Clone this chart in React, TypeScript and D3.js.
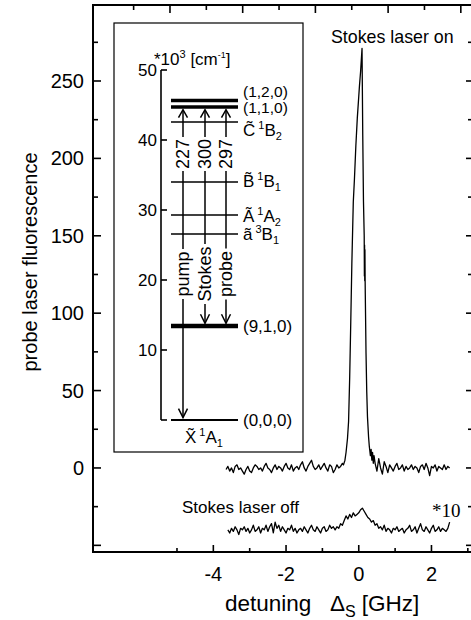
import React from "react";
import * as d3 from "d3";

// ---------- data ----------
// Detuning sampling step (GHz) for the recorded traces
const STEP = 0.05;

// "Stokes laser on" trace: baseline left of the resonance
const onLeftStart = -3.65;
const onLeftValues = [
  -1, 1, -2, 0, -3, 1, 2, -1, 0, -2,
  -4, -1, 1, -2, -3, 0, 2, 1, -1, 0,
  -2, 1, 3, 0, -1, -3, 0, 2, -1, 1,
  0, -2, 1, 3, 0, -1, 2, -2, 0, 1,
  -1, 2, 4, 0, -2, 1, 3, 5, 1, -1,
  0, 2, -1, 1, 3, 0, -2, 2, 1, -3,
  -1, 2, 0, 1, 3,
];
// resonance region, [detuning GHz, fluorescence]
const onPeakPoints: [number, number][] = [
  [-0.42, 2], [-0.38, 5], [-0.35, 10], [-0.31, 19], [-0.28, 30], [-0.25, 58],
  [-0.22, 94], [-0.19, 132], [-0.15, 172], [-0.12, 186], [-0.08, 208],
  [-0.04, 226], [0.0, 240], [0.02, 247], [0.05, 256], [0.09, 271], [0.11, 215],
  [0.13, 172], [0.15, 150], [0.155, 124], [0.16, 144], [0.165, 121], [0.17, 141],
  [0.175, 122], [0.18, 112], [0.2, 74], [0.22, 49], [0.24, 33], [0.27, 20],
  [0.29, 14], [0.32, 8], [0.34, 12], [0.36, 5], [0.38, 10], [0.4, 3], [0.42, 8],
];
// baseline right of the resonance
const onRightStart = 0.45;
const onRightValues = [
  3, -2, 6, 0, -4, 4, 1, -3, 2, 0,
  -2, 1, 3, -1, 0, 2, -2, 1, -1, 0,
  2, -1, 1, 0, -3, 1, 2, -1, 3, 0,
  -5, 1, 0, 2, -2, 1, 0, -1, 2, -1,
  1, 0,
];

// "Stokes laser off" trace (magnified x10), drawn shifted below the zero line
const offStart = -3.6;
const offValues = [
  0, -2, 1, -1, 2, 0, -3, 1, 0, 2,
  -1, 1, -2, 0, 3, -1, 0, 2, -2, 1,
  0, 3, -1, 2, 4, -2, 5, 1, 3, -1,
  2, 0, -2, 1, 0, 3, -1, 1, -2, 0,
  1, -1, 2, 0, -2, 1, 3, 0, -1, 2,
  0, -2, 1, 2, -1, 0, 3, 1, 2, 0,
  2, 1, 4, 3, 6, 9, 7, 10, 8, 11,
  9, 10, 11, 13, 14, 12, 10, 8, 7, 5,
  6, 3, 4, 1, 2, 0, 3, -1, 1, 0,
  -2, 1, 0, 2, -1, 0, 1, -2, 0, 1,
  3, -1, 0, 2, -2, 1, 4, 0, -1, 2,
  0, -2, 1, 3, -1, 0, 2, -1, 1, 0,
  -1, 1, 5,
];
const OFF_SHIFT = -40;

// Axis ticks
const yLabelTicks = [0, 50, 100, 150, 200, 250];
const yMajorTicks = [-50, 0, 50, 100, 150, 200, 250];
const yMinorTicks = [-25, 25, 75, 125, 175, 225, 275];
const xLabelTicks = [-4, -2, 0, 2];
const xBottomTicks = [-5, -4, -3, -2, -1, 0, 1, 2, 3];
const xTopTicks = [-6, -5, -4, -3, -2, -1, 0, 1, 2, 3];

// Energy-level diagram (10^3 cm^-1)
const energyTicks = [0, 10, 20, 30, 40, 50];
const energyTickLabels = [10, 20, 30, 40, 50];
const vibLevelNames = ["(1,2,0)", "(1,1,0)", "(9,1,0)", "(0,0,0)"];
const vibLevelEnergies = [45.64, 44.71, 13.43, 0];
const electronicStates = [
  { letter: "C\u0303", mult: "1", sym: "B", sub: "2" },
  { letter: "B\u0303", mult: "1", sym: "B", sub: "1" },
  { letter: "\u00C3", mult: "1", sym: "A", sub: "2" },
  { letter: "\u00E3", mult: "3", sym: "B", sub: "1" },
];
const electronicEnergies = [42.57, 34.0, 29.29, 26.57];
const beamWavelengths = ["227", "300", "297"];
const beamNames = ["pump", "Stokes", "probe"];

// ---------- drawing ----------
const W = 471;
const H = 620;
const FONT = "'Liberation Sans', Arial, Helvetica, sans-serif";
const SERIF = "'Liberation Serif', 'Times New Roman', serif";

const frame = { left: 93, right: 474, top: 5, bottom: 552 };

export default function App() {
  const x = d3.scaleLinear().domain([-7.31, 3.17]).range([frame.left, frame.right]);
  const y = d3.scaleLinear().domain([-54.3, 299.1]).range([frame.bottom, frame.top]);
  const eY = d3.scaleLinear().domain([0, 50]).range([420, 70]);

  const onPts: [number, number][] = [
    ...onLeftValues.map((v, i) => [onLeftStart + i * STEP, v] as [number, number]),
    ...onPeakPoints,
    ...onRightValues.map((v, i) => [onRightStart + i * STEP, v] as [number, number]),
  ];
  const offPts: [number, number][] = offValues.map(
    (v, i) => [offStart + i * STEP, v + OFF_SHIFT] as [number, number]
  );
  const line = d3
    .line<[number, number]>()
    .x((d) => x(d[0]))
    .y((d) => y(d[1]));

  const topSkew = -7;

  // inset geometry
  const box = { x: 114, y: 23, w: 189, h: 429 };
  const axisX = 161;
  const lvlX1 = 171;
  const lvlX2 = 238;
  const lblX = 243;
  const beamX = [183, 205, 226];
  const vibWidths = [3.4, 3.4, 4.5, 1.8];
  const upperLabelY = 154;
  const lowerLabelY = 274;
  const fs = 18;
  const em: Record<string, number> = { "227": 1.668, "300": 1.668, "297": 1.668, pump: 2.5, Stokes: 3.057, probe: 2.557 };

  const topTip = eY(vibLevelEnergies[1]) + vibWidths[1] / 2 + 1;
  const bottomTips = [
    eY(vibLevelEnergies[3]) - vibWidths[3] / 2 - 1.5,
    eY(vibLevelEnergies[2]) - vibWidths[2] / 2 - 0.5,
    eY(vibLevelEnergies[2]) - vibWidths[2] / 2 - 0.5,
  ];

  const stroke = "#000";

  return (
    <svg
      width={W}
      height={H}
      viewBox={`0 0 ${W} ${H}`}
      style={{ position: "absolute", left: 0, top: 0, background: "#fff" }}
      fontFamily={FONT}
    >
      <rect x={0} y={0} width={W} height={H} fill="#fff" />

      {/* traces */}
      <path d={line(onPts) || ""} fill="none" stroke={stroke} strokeWidth={1.3} strokeLinejoin="round" />
      <path d={line(offPts) || ""} fill="none" stroke={stroke} strokeWidth={1.3} strokeLinejoin="round" />

      {/* frame */}
      <g stroke={stroke} strokeWidth={2} fill="none">
        <line x1={frame.left} y1={frame.top} x2={frame.right} y2={frame.top} />
        <line x1={frame.left} y1={frame.bottom} x2={frame.right} y2={frame.bottom} />
        <line x1={frame.left} y1={frame.top - 1} x2={frame.left} y2={frame.bottom + 1} />
        <line x1={frame.right} y1={frame.top} x2={frame.right} y2={frame.bottom} />
      </g>

      {/* y ticks, left and right */}
      <g stroke={stroke} strokeWidth={1.6}>
        {yMajorTicks.map((t) => (
          <g key={"ym" + t}>
            <line x1={frame.left} x2={frame.left + 8} y1={y(t)} y2={y(t)} />
            <line x1={frame.right - 8} x2={frame.right} y1={y(t)} y2={y(t)} />
          </g>
        ))}
        {yMinorTicks.map((t) => (
          <g key={"yn" + t}>
            <line x1={frame.left} x2={frame.left + 5} y1={y(t)} y2={y(t)} />
            <line x1={frame.right - 6} x2={frame.right} y1={y(t)} y2={y(t)} />
          </g>
        ))}
      </g>
      {yLabelTicks.map((t) => (
        <text key={"yl" + t} x={84} y={y(t) + 7} fontSize={20} textAnchor="end">
          {t}
        </text>
      ))}

      {/* x ticks */}
      <g stroke={stroke} strokeWidth={1.6}>
        {xBottomTicks.map((t) => (
          <line
            key={"xb" + t}
            x1={x(t)}
            x2={x(t)}
            y1={frame.bottom}
            y2={frame.bottom - (t % 2 === 0 ? 7 : 4)}
          />
        ))}
        {xTopTicks.map((t) => (
          <line
            key={"xt" + t}
            x1={x(t) + topSkew}
            x2={x(t) + topSkew}
            y1={frame.top}
            y2={frame.top + (Math.abs(t) % 2 === 1 ? 8 : 5)}
          />
        ))}
      </g>
      {xLabelTicks.map((t) => (
        <text key={"xl" + t} x={x(t)} y={581} fontSize={20} textAnchor="middle">
          {t}
        </text>
      ))}

      {/* axis titles */}
      <text transform="translate(37,262) rotate(-90)" fontSize={20} textAnchor="middle">
        probe laser fluorescence
      </text>
      <text x={225} y={611} fontSize={22.5}>
        detuning
        <tspan x={330}>Δ</tspan>
        <tspan fontSize={16} dy={6}>S</tspan>
        <tspan dy={-6} dx={6}>[GHz]</tspan>
      </text>

      {/* trace annotations */}
      <text x={331} y={43} fontSize={17.8}>
        Stokes laser on
      </text>
      <text x={182} y={513} fontSize={17}>
        Stokes laser off
      </text>
      <text x={432} y={517} fontSize={19} fontFamily={SERIF}>
        *10
      </text>

      {/* ---------- inset: energy-level diagram ---------- */}
      <rect x={box.x} y={box.y} width={box.w} height={box.h} fill="#fff" stroke={stroke} strokeWidth={1.2} />

      <text x={154} y={65} fontSize={17}>
        *10
        <tspan fontSize={11} dy={-7}>3</tspan>
        <tspan dy={7}> [cm</tspan>
        <tspan fontSize={9} dy={-7}>-1</tspan>
        <tspan dy={7}>]</tspan>
      </text>

      <g stroke={stroke} strokeWidth={1.6}>
        <line x1={axisX} x2={axisX} y1={eY(0)} y2={eY(50)} />
        {energyTicks.map((t) => (
          <line key={"et" + t} x1={axisX} x2={axisX + 6} y1={eY(t)} y2={eY(t)} />
        ))}
      </g>
      {energyTickLabels.map((t) => (
        <text key={"el" + t} x={157} y={eY(t) + 6} fontSize={17} textAnchor="end">
          {t}
        </text>
      ))}

      {/* vibrational levels */}
      {vibLevelEnergies.map((en, i) => (
        <line
          key={"vl" + i}
          x1={lvlX1}
          x2={lvlX2}
          y1={eY(en)}
          y2={eY(en)}
          stroke={stroke}
          strokeWidth={vibWidths[i]}
        />
      ))}
      {/* electronic state origins */}
      {electronicEnergies.map((en, i) => (
        <line key={"es" + i} x1={lvlX1} x2={lvlX2} y1={eY(en)} y2={eY(en)} stroke={stroke} strokeWidth={1.5} />
      ))}

      {/* level labels */}
      {vibLevelNames.map((n, i) => {
        const dy = [-4, 6, 6, 6][i];
        return (
          <text key={"vn" + i} x={lblX} y={eY(vibLevelEnergies[i]) + dy} fontSize={i < 2 ? 15.5 : 17}>
            {n}
          </text>
        );
      })}
      {electronicStates.map((s, i) => {
        const dy = [14, 5, 7, 6][i];
        return (
          <text key={"en" + i} x={lblX} y={eY(electronicEnergies[i]) + dy} fontSize={17}>
            {s.letter}
            <tspan fontSize={11} dx={3} dy={-7}>
              {s.mult}
            </tspan>
            <tspan dy={7}>{s.sym}</tspan>
            <tspan fontSize={11} dy={4}>
              {s.sub}
            </tspan>
          </text>
        );
      })}
      <text x={185} y={443} fontSize={17}>
        {"X\u0303"}
        <tspan fontSize={11} dx={3} dy={-7}>1</tspan>
        <tspan dy={7}>A</tspan>
        <tspan fontSize={11} dy={4}>1</tspan>
      </text>

      {/* laser transitions */}
      {beamX.map((bx, i) => {
        const hu = (em[beamWavelengths[i]] * fs) / 2 + 2;
        const hl = (em[beamNames[i]] * fs) / 2 + 2.5;
        const bt = bottomTips[i];
        return (
          <g key={"b" + i}>
            <g stroke={stroke} strokeWidth={1.5} fill="none">
              <line x1={bx} x2={bx} y1={topTip} y2={upperLabelY - hu} />
              <line x1={bx} x2={bx} y1={upperLabelY + hu} y2={lowerLabelY - hl} />
              <line x1={bx} x2={bx} y1={lowerLabelY + hl} y2={bt} />
              <path d={`M${bx - 4.5},${topTip + 8} L${bx},${topTip} L${bx + 4.5},${topTip + 8}`} />
              <path d={`M${bx - 4.5},${bt - 9} L${bx},${bt} L${bx + 4.5},${bt - 9}`} />
            </g>
            <text
              transform={`translate(${bx},${upperLabelY}) rotate(-90)`}
              fontSize={fs}
              textAnchor="middle"
              dominantBaseline="central"
            >
              {beamWavelengths[i]}
            </text>
            <text
              transform={`translate(${bx},${lowerLabelY}) rotate(-90)`}
              fontSize={fs}
              textAnchor="middle"
              dominantBaseline="central"
            >
              {beamNames[i]}
            </text>
          </g>
        );
      })}
    </svg>
  );
}
